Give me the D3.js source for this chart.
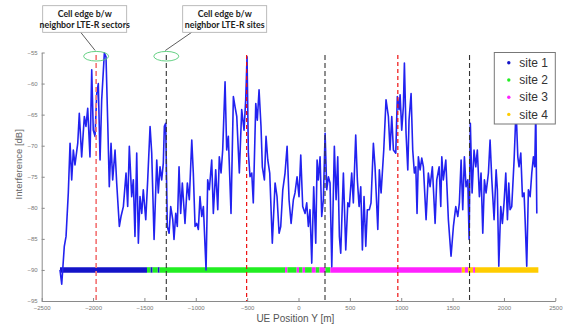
<!DOCTYPE html>
<html>
<head>
<meta charset="utf-8">
<script src="https://cdn.jsdelivr.net/npm/d3@7"></script>
<style>
	body { margin: 0; background: #fff; }
	.tick text { font-family: "Liberation Sans", Arial, sans-serif; font-size: 6px; fill: #777; }
</style>
</head>
<body>
<div id="chart-area"></div>
<script>

// interference seen by the UE along the track: [UE position (m), interference (dB)]
let interference = [
	[-2322,-90],[-2305,-92.3],[-2280,-86.2],[-2263,-84.6],[-2241,-77.6],[-2224,-69.6],[-2208,-75.5],[-2192,-70.7],
	[-2176,-73.1],[-2149,-69.6],[-2134,-64.8],[-2111,-71.8],[-2085,-65.3],[-2069,-66.9],[-2052,-64],[-2030,-71.8],
	[-2013,-57.8],[-1998,-67.5],[-1981,-68.5],[-1964,-61.6],[-1949,-60],[-1932,-72.3],[-1916,-62.6],[-1890,-55.1],
	[-1874,-55.7],[-1857,-66.4],[-1842,-76.6],[-1825,-69.6],[-1809,-75.5],[-1786,-70.7],[-1770,-76],[-1744,-83],
	[-1728,-81.4],[-1705,-79.8],[-1679,-74.4],[-1663,-79.8],[-1647,-70.1],[-1624,-78.2],[-1608,-75.5],[-1592,-84.6],
	[-1575,-71.2],[-1559,-85.7],[-1543,-78.2],[-1526,-80.9],[-1511,-77.1],[-1487,-81.9],[-1468,-75.5],[-1445,-66.9],
	[-1429,-71.2],[-1406,-85.1],[-1380,-72.3],[-1365,-77.6],[-1348,-73.4],[-1332,-75.5],[-1316,-72.8],[-1306,-66.9],
	[-1293,-66.4],[-1277,-83],[-1260,-84.1],[-1244,-79.8],[-1224,-81.9],[-1212,-85.1],[-1195,-80.9],[-1180,-83],
	[-1163,-73.4],[-1147,-80.9],[-1131,-76],[-1105,-82.5],[-1082,-76],[-1063,-78.7],[-1039,-69.1],[-1024,-74.4],
	[-1007,-83],[-991,-82.5],[-975,-83.5],[-959,-78.2],[-942,-81.4],[-926,-79.8],[-900,-90],[-884,-75.5],
	[-868,-77.1],[-845,-72.3],[-829,-80.9],[-806,-73.9],[-786,-80.3],[-771,-71.8],[-754,-74.4],[-738,-70.7],
	[-715,-59.7],[-699,-70.7],[-683,-68.5],[-657,-80.9],[-634,-62.1],[-618,-63.7],[-601,-65.3],[-576,-74.4],
	[-553,-64.2],[-530,-67.5],[-514,-62.6],[-501,-55.7],[-488,-71.2],[-472,-75],[-455,-74.4],[-440,-79.2],
	[-416,-63.2],[-401,-65.9],[-384,-61],[-365,-66.9],[-352,-73.4],[-332,-75.5],[-316,-68.5],[-299,-72.3],
	[-280,-74.4],[-255,-85.7],[-228,-76],[-209,-78.2],[-189,-84.1],[-173,-83],[-153,-77.1],[-131,-74.4],
	[-111,-70.1],[-92,-78.7],[-72,-82.5],[-50,-78.7],[-34,-77.6],[-14,-75],[5,-78.2],[22,-71.5],
	[41,-79.8],[64,-80.9],[80,-79.2],[96,-83],[112,-80.3],[129,-88.9],[148,-76.6],[168,-85.7],
	[181,-72.3],[193,-75.5],[210,-71.8],[226,-81.4],[242,-78.7],[259,-68],[275,-77.1],[291,-75],
	[307,-76],[324,-89.5],[349,-70.1],[366,-78.7],[382,-71.8],[398,-84.6],[411,-87.3],[437,-74.4],
	[460,-86.8],[480,-79.2],[495,-79.8],[518,-74.4],[534,-79.2],[557,-68.3],[573,-75.5],[590,-79.8],
	[606,-76.6],[622,-86.8],[638,-78.2],[655,-86.2],[670,-80.3],[690,-80.3],[706,-79.2],[729,-69.6],
	[745,-73.4],[772,-83.5],[787,-73.9],[804,-77.6],[830,-70.7],[852,-62.6],[875,-65.3],[891,-70.7],
	[908,-65.3],[924,-70.7],[947,-71.2],[962,-62.1],[979,-64.2],[989,-61.8],[1005,-67.5],[1021,-63.7],
	[1031,-56.7],[1047,-68],[1064,-73.9],[1076,-65.9],[1096,-61.6],[1112,-70.7],[1128,-74.4],[1142,-73.4],
	[1154,-80.9],[1167,-71.8],[1184,-73.9],[1200,-72],[1216,-73.4],[1242,-81.9],[1264,-74.4],[1281,-76.6],
	[1303,-73.4],[1330,-82.5],[1346,-75.5],[1369,-73.4],[1385,-79.8],[1395,-71.8],[1410,-75.5],[1434,-72.3],
	[1459,-81.9],[1485,-87.8],[1508,-83],[1531,-79.8],[1551,-81.4],[1566,-79.2],[1583,-72.3],[1599,-80.3],
	[1615,-71.8],[1631,-76.6],[1648,-75.5],[1661,-85.1],[1673,-66.4],[1690,-77.6],[1709,-70.7],[1726,-73.4],
	[1741,-70.7],[1761,-78.2],[1777,-74.4],[1794,-84.1],[1810,-75.5],[1826,-77.6],[1849,-74.4],[1865,-69.1],
	[1882,-75.5],[1904,-81.9],[1924,-73.9],[1936,-77.1],[1950,-89.4],[1969,-79.8],[1985,-82.5],[2001,-79.2],
	[2018,-74.4],[2034,-81.9],[2047,-76],[2060,-80.3],[2076,-79.8],[2099,-72.3],[2118,-64],[2135,-71.8],
	[2147,-73.4],[2164,-71.2],[2180,-78.2],[2196,-77.6],[2206,-81.9],[2222,-89.4],[2238,-77.1],[2255,-78.2],
	[2271,-74.4],[2287,-71.8],[2300,-73.4],[2310,-64],[2320,-80.9]
];

// serving site along the track: [from (m), to (m), site index]
let servingSite = [
	[-2322,-1475,0],[-1475,-1440,1],[-1440,-1420,0],[-1420,-1370,1],[-1370,-1352,0],[-1352,-131,1],
	[-131,-108,2],[-108,-18,1],[-18,5,2],[5,40,1],[40,64,2],[64,130,1],[130,168,2],[168,205,1],
	[205,262,2],[262,310,1],[310,1590,2],[1590,1620,3],[1620,1650,2],[1650,1700,3],[1700,1718,2],
	[1718,2335,3]
];
let siteLevel = -90;

let siteNames = ["site 1", "site 2", "site 3", "site 4"];
let siteColors = ["#1414c8", "#22ee22", "#ff22ff", "#ffcc00"];

// cell edges (m)
let sectorEdges = [-1970, -505, 967];
let siteEdges = [-1287, 258, 1665];

let xTicks = [-2500, -2000, -1500, -1000, -500, 0, 500, 1000, 1500, 2000, 2500];
let yTicks = [-95, -90, -85, -80, -75, -70, -65, -60, -55];

let margin = {top: 52.5, right: 8.7, bottom: 24, left: 41.7};
let width = 564 - margin.left - margin.right;
let height = 325 - margin.top - margin.bottom;

let root = d3.select("#chart-area").append("svg")
	.attr("width", 564)
	.attr("height", 325);

let svg = root.append("g")
	.attr("transform", "translate(" + margin.left + "," + margin.top + ")");

let xScale = d3.scaleLinear().domain([-2500, 2500]).range([0, width]);
let yScale = d3.scaleLinear().domain([-95, -55]).range([height, 0]);

// axes, matlab style: ticks point inwards
let xAxis = d3.axisBottom(xScale).tickValues(xTicks).tickFormat(d3.format("d"))
	.tickSize(-3).tickSizeOuter(0).tickPadding(5);
let yAxis = d3.axisLeft(yScale).tickValues(yTicks).tickFormat(d3.format("d"))
	.tickSize(-3).tickSizeOuter(0).tickPadding(4);

let xAxisGroup = svg.append("g")
	.attr("transform", "translate(0," + height + ")")
	.call(xAxis);
let yAxisGroup = svg.append("g").call(yAxis);

[xAxisGroup, yAxisGroup].forEach(g => {
	g.select(".domain").attr("stroke", "#8a8a8a");
	g.selectAll(".tick line").attr("stroke", "#8a8a8a");
});

svg.append("text")
	.attr("x", xScale(-30))
	.attr("y", height + 21)
	.attr("text-anchor", "middle")
	.style("font-family", "Liberation Sans, Arial, sans-serif")
	.style("font-size", "10px")
	.style("fill", "#555")
	.text("UE Position Y [m]");

svg.append("text")
	.attr("transform", "translate(" + (-20) + "," + yScale(-73) + ") rotate(-90)")
	.attr("text-anchor", "middle")
	.style("font-family", "Liberation Sans, Arial, sans-serif")
	.style("font-size", "9.5px")
	.style("fill", "#666")
	.text("Interference [dB]");

// serving site band
svg.selectAll(".site-band")
	.data(servingSite)
	.enter()
	.append("line")
	.attr("class", "site-band")
	.attr("x1", d => xScale(d[0]))
	.attr("x2", d => xScale(d[1]))
	.attr("y1", yScale(siteLevel))
	.attr("y2", yScale(siteLevel))
	.attr("stroke", d => siteColors[d[2]])
	.attr("stroke-width", 5.5);

// interference curve
let line = d3.line()
	.x(d => xScale(d[0]))
	.y(d => yScale(d[1]));

svg.append("path")
	.datum(interference)
	.attr("d", line)
	.attr("fill", "none")
	.attr("stroke", "#2222f0")
	.attr("stroke-width", 1.6)
	.attr("stroke-linejoin", "round");

// dashed cell edge lines
svg.selectAll(".sector-edge")
	.data(sectorEdges)
	.enter()
	.append("line")
	.attr("x1", d => xScale(d))
	.attr("x2", d => xScale(d))
	.attr("y1", yScale(-55.4))
	.attr("y2", height)
	.attr("stroke", (d, i) => i == 0 ? "#f47a7a" : "#ee1111")
	.attr("stroke-width", (d, i) => i == 0 ? 1.7 : 1.2)
	.attr("stroke-dasharray", (d, i) => i == 0 ? "5,3" : "4,3");

svg.selectAll(".site-edge")
	.data(siteEdges)
	.enter()
	.append("line")
	.attr("x1", d => xScale(d))
	.attr("x2", d => xScale(d))
	.attr("y1", yScale(-55.4))
	.attr("y2", height)
	.attr("stroke", "#333")
	.attr("stroke-width", 1.1)
	.attr("stroke-dasharray", "5,3");

// callouts
let callouts = [
	{edge: sectorEdges[0], lines: ["Cell edge b/w", "neighbor LTE-R sectors"], boxX: 1, lineX: 39},
	{edge: siteEdges[0], lines: ["Cell edge b/w", "neighbor LTE-R sites"], boxX: 141, lineX: 150}
];

callouts.forEach(c => {
	svg.append("ellipse")
		.attr("cx", xScale(c.edge))
		.attr("cy", yScale(-55.6))
		.attr("rx", 12.5)
		.attr("ry", 4.8)
		.attr("fill", "none")
		.attr("stroke", "#55cc77")
		.attr("stroke-width", 0.9);

	svg.append("line")
		.attr("x1", c.lineX)
		.attr("y1", -20.2)
		.attr("x2", xScale(c.edge) - 1)
		.attr("y2", -2)
		.attr("stroke", "#333")
		.attr("stroke-width", 0.8);

	svg.append("rect")
		.attr("x", c.boxX)
		.attr("y", -46.8)
		.attr("width", 84)
		.attr("height", 26.6)
		.attr("fill", "#fff")
		.attr("stroke", "#aaa")
		.attr("stroke-width", 0.8);

	c.lines.forEach((t, i) => {
		svg.append("text")
			.attr("x", c.boxX + 42)
			.attr("y", -35.5 + i * 10.7)
			.attr("text-anchor", "middle")
			.style("font-family", "Lato, sans-serif")
			.style("font-weight", "bold")
			.style("font-size", "8.8px")
			.style("fill", "#222")
			.text(t);
	});
});

// legend
let legend = svg.append("g")
	.attr("transform", "translate(" + (width - 61) + ",0)");

legend.append("rect")
	.attr("width", 61)
	.attr("height", 71.5)
	.attr("fill", "#fff")
	.attr("stroke", "#777")
	.attr("stroke-width", 1);

siteNames.forEach((name, i) => {
	legend.append("circle")
		.attr("cx", 14.5)
		.attr("cy", 10.3 + i * 17.2)
		.attr("r", 1.7)
		.attr("fill", siteColors[i]);
	legend.append("text")
		.attr("x", 25)
		.attr("y", 14.5 + i * 17.2)
		.style("font-family", "Liberation Sans, Arial, sans-serif")
		.style("font-size", "12px")
		.style("fill", "#333")
		.text(name);
});

</script>
</body>
</html>
